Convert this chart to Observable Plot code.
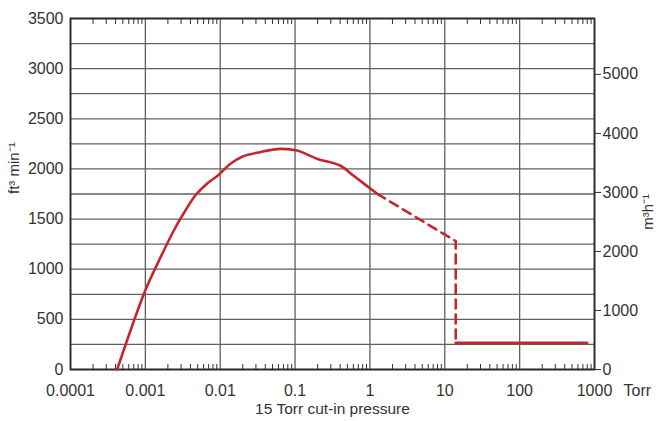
<!DOCTYPE html>
<html><head><meta charset="utf-8">
<script src="https://cdn.jsdelivr.net/npm/d3@7"></script>
<script src="https://cdn.jsdelivr.net/npm/@observablehq/plot@0.6"></script>
<style>
body{margin:0;background:#fff;}
#chart{width:665px;height:421px;}
</style>
</head><body><div id="chart"></div>
<script>
// Pressure (Torr) and pumping speed (ft³/min)
const solidPressure = [0.00042, 0.001, 0.0016, 0.0024, 0.0033, 0.0047, 0.0067, 0.0095, 0.0137, 0.02, 0.034, 0.064, 0.106, 0.2, 0.4, 0.6, 1.25];
const solidSpeed    = [0, 790, 1120, 1386, 1565, 1740, 1855, 1940, 2051, 2124, 2167, 2200, 2183, 2100, 2034, 1934, 1752];
const dashedPressure = [1.25, 14, 14];
const dashedSpeed    = [1752, 1280, 265];
const flatPressure = [14, 800];
const flatSpeed    = [265, 265];

const xDecades = [0.0001, 0.001, 0.01, 0.1, 1, 10, 100, 1000];
const xTickLabels = ["0.0001", "0.001", "0.01", "0.1", "1", "10", "100", "1000"];
const yGrid = d3.range(0, 3501, 250);
const yTicks = [0, 500, 1000, 1500, 2000, 2500, 3000, 3500];
const m3hTicks = [0, 1000, 2000, 3000, 4000, 5000];
const m3hToCfm = 0.588578;

const minorTicks = [];
for (const d of xDecades.slice(0, -1)) for (let k = 2; k <= 9; k++) minorTicks.push(d * k);

const toRows = (xs, ys) => xs.map((x, i) => ({p: x, s: ys[i]}));
const xLabel = (d) => {
  let best = 0;
  xDecades.forEach((v, i) => { if (Math.abs(Math.log10(v) - Math.log10(d)) < Math.abs(Math.log10(xDecades[best]) - Math.log10(d))) best = i; });
  return xTickLabels[best];
};
const red = "#c4262e";
const font = "'Liberation Sans', Arial, sans-serif";
const fs = 16;

const chart = Plot.plot({
  width: 665, height: 421,
  marginLeft: 70, marginRight: 71, marginTop: 18, marginBottom: 52,
  style: {fontFamily: font, fontSize: "16px", color: "#333", background: "#fff"},
  x: {type: "log", domain: [0.0001, 1000]},
  y: {domain: [0, 3500]},
  marks: [
    Plot.ruleY(yGrid, {stroke: "#606060", strokeWidth: 1.3}),
    Plot.ruleX(xDecades, {stroke: "#606060", strokeWidth: 1.3}),
    Plot.axisY(yTicks, {anchor: "left", tickSize: 0, tickPadding: 7, label: null, fontSize: fs, tickFormat: (d) => String(d)}),
    Plot.axisY(m3hTicks.map(v => v * m3hToCfm), {anchor: "right", tickSize: 6, tickPadding: 2, label: null,
      tickFormat: (d) => String(Math.round(d / m3hToCfm / 1000) * 1000), stroke: "#333", fontSize: fs}),
    Plot.axisX(xDecades, {anchor: "bottom", tickSize: 0, tickPadding: 15, label: null,
      tickFormat: xLabel, fontSize: fs}),
    Plot.axisX(minorTicks, {anchor: "bottom", tickSize: -5, tickFormat: () => "", label: null, stroke: "#333"}),
    Plot.axisX(minorTicks, {anchor: "top", tickSize: -5, tickFormat: () => "", label: null, stroke: "#333"}),
    Plot.frame({stroke: "#2a2a2a", strokeWidth: 1.8}),
    Plot.line(toRows(solidPressure, solidSpeed), {x: "p", y: "s", stroke: red, strokeWidth: 2.6, curve: "catmull-rom"}),
    Plot.line(toRows(dashedPressure, dashedSpeed), {x: "p", y: "s", stroke: red, strokeWidth: 2.6, strokeDasharray: "9,6"}),
    Plot.line(toRows(flatPressure, flatSpeed), {x: "p", y: "s", stroke: red, strokeWidth: 2.6}),
    Plot.text(["Torr"], {frameAnchor: "bottom-right", dx: 29, dy: 26, textAnchor: "start", fontSize: fs, fill: "#333"}),
    Plot.text(["15 Torr cut-in pressure"], {frameAnchor: "bottom", dy: 44, fontSize: 15.5, fill: "#333"}),
    Plot.text(["ft³ min⁻¹"], {frameAnchor: "left", dx: -56, rotate: -90, fontSize: 15, fill: "#333"}),
    Plot.text(["m³h⁻¹"], {frameAnchor: "right", dx: 54, rotate: -90, fontSize: 15, fill: "#333"})
  ]
});
document.getElementById("chart").appendChild(chart);
</script>
</body></html>
